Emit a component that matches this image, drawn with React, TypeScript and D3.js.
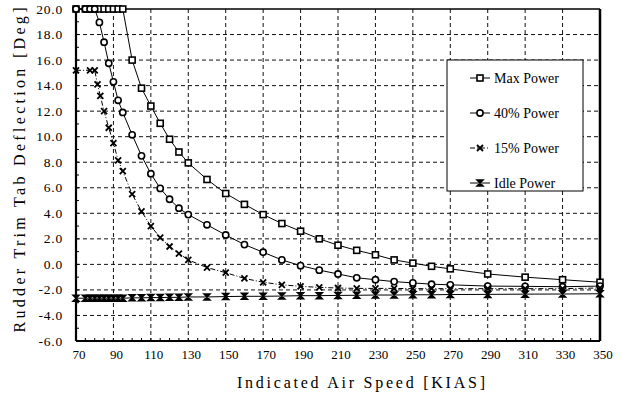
import React from "react";
import * as d3 from "d3";

const xTicks = [70, 90, 110, 130, 150, 170, 190, 210, 230, 250, 270, 290, 310, 330, 350];
const yTicks = [20, 18, 16, 14, 12, 10, 8, 6, 4, 2, 0, -2, -4, -6];

const maxX = [70, 75, 77.5, 80, 82.5, 85, 87.5, 90, 92.5, 95, 100, 105, 110, 115, 120, 125, 130, 140, 150, 160, 170, 180, 190, 200, 210, 220, 230, 240, 250, 260, 270, 290, 310, 330, 350];
const maxY = [20, 20, 20, 20, 20, 20, 20, 20, 20, 20, 16.0, 13.8, 12.4, 11.05, 9.8, 8.8, 7.95, 6.65, 5.55, 4.7, 3.9, 3.2, 2.6, 2.0, 1.5, 1.1, 0.75, 0.35, 0.1, -0.15, -0.35, -0.75, -1.0, -1.2, -1.4];

const p40X = [70, 75, 77.5, 80, 82.5, 85, 87.5, 90, 92.5, 95, 100, 105, 110, 115, 120, 125, 130, 140, 150, 160, 170, 180, 190, 200, 210, 220, 230, 240, 250, 260, 270, 290, 310, 330, 350];
const p40Y = [20, 20, 20, 20, 18.95, 17.4, 15.75, 14.3, 12.85, 11.9, 10.15, 8.5, 7.1, 5.95, 5.1, 4.4, 3.9, 3.1, 2.3, 1.55, 0.95, 0.35, -0.1, -0.45, -0.75, -1.05, -1.2, -1.35, -1.45, -1.55, -1.6, -1.7, -1.72, -1.75, -1.7];

const p15X = [70, 77.5, 80, 81.5, 83, 85, 87.5, 90, 92.5, 95, 100, 105, 110, 115, 120, 125, 130, 140, 150, 160, 170, 180, 190, 200, 210, 220, 230, 240, 250, 260, 270, 290, 310, 330, 350];
const p15Y = [15.2, 15.2, 15.2, 14.1, 13.2, 12.0, 10.7, 9.5, 8.15, 7.3, 5.5, 4.15, 3.0, 2.1, 1.4, 0.85, 0.35, -0.25, -0.65, -1.1, -1.4, -1.6, -1.72, -1.8, -1.85, -1.88, -1.88, -1.88, -1.9, -1.9, -1.9, -1.9, -1.9, -1.9, -1.85];

const idleX = [70, 75, 77.5, 80, 82.5, 85, 87.5, 90, 92.5, 95, 100, 105, 110, 115, 120, 125, 130, 140, 150, 160, 170, 180, 190, 200, 210, 220, 230, 240, 250, 260, 270, 290, 310, 330, 350];
const idleY = [-2.65, -2.65, -2.65, -2.65, -2.65, -2.65, -2.65, -2.65, -2.65, -2.65, -2.62, -2.62, -2.6, -2.6, -2.58, -2.58, -2.55, -2.55, -2.52, -2.5, -2.5, -2.48, -2.45, -2.45, -2.43, -2.42, -2.4, -2.4, -2.38, -2.38, -2.36, -2.35, -2.33, -2.32, -2.3];

const seriesNames = ["Max Power", "40% Power", "15% Power", "Idle Power"];

const W = 623, H = 401;
const x = d3.scaleLinear().domain([70, 350]).range([76, 600]);
const y = d3.scaleLinear().domain([-6, 20]).range([341, 9]);

function Marker({ type, cx, cy }: { type: string; cx: number; cy: number }) {
  const s = 3;
  if (type === "square")
    return <rect x={cx - s} y={cy - s} width={2 * s} height={2 * s} fill="#fff" stroke="#000" strokeWidth={1.6} />;
  if (type === "circle")
    return <circle cx={cx} cy={cy} r={3.1} fill="#fff" stroke="#000" strokeWidth={1.6} />;
  if (type === "x")
    return <path d={`M${cx - s},${cy - s}L${cx + s},${cy + s}M${cx - s},${cy + s}L${cx + s},${cy - s}`} stroke="#000" strokeWidth={1.8} fill="none" />;
  return <path d={`M${cx - s},${cy - s}H${cx + s}L${cx - s},${cy + s}H${cx + s}Z`} stroke="#000" strokeWidth={1.5} fill="#000" />;
}

export default function App() {
  const series = [
    { xs: maxX, ys: maxY, m: "square", dash: "none" },
    { xs: p40X, ys: p40Y, m: "circle", dash: "none" },
    { xs: p15X, ys: p15Y, m: "x", dash: "5,2,1,2" },
    { xs: idleX, ys: idleY, m: "idle", dash: "none" },
  ];
  const line = d3.line<[number, number]>().x((d) => x(d[0])).y((d) => y(d[1]));
  const minorX = d3.range(70, 351, 5);
  const minorY = d3.range(-6, 20.01, 1);
  const font = "'Liberation Serif', 'Times New Roman', serif";
  return (
    <svg width={W} height={H} style={{ position: "absolute", left: 0, top: 0, background: "#fff" }}>
      <rect x={0} y={0} width={W} height={H} fill="#fff" />
      {xTicks.slice(1, -1).map((t) => (
        <line key={"gx" + t} x1={x(t)} x2={x(t)} y1={y(20)} y2={y(-6)} stroke="#111" strokeWidth={1} strokeDasharray="4,3" />
      ))}
      {yTicks.slice(1, -1).map((t) => (
        <line key={"gy" + t} x1={x(70)} x2={x(350)} y1={y(t)} y2={y(t)} stroke="#111" strokeWidth={1} strokeDasharray="4,3" />
      ))}
      {minorX.map((t) => (
        <line key={"mx" + t} x1={x(t)} x2={x(t)} y1={y(-6)} y2={y(-6) - 3} stroke="#000" strokeWidth={1} />
      ))}
      {minorY.map((t) => (
        <line key={"my" + t} x1={x(70)} x2={x(70) + 3} y1={y(t)} y2={y(t)} stroke="#000" strokeWidth={1} />
      ))}
      <line x1={x(70)} x2={x(350)} y1={y(20)} y2={y(20)} stroke="#000" strokeWidth={1.5} />
      <line x1={x(70)} x2={x(70)} y1={y(20)} y2={y(-6)} stroke="#000" strokeWidth={2.2} />
      <line x1={x(70)} x2={x(350)} y1={y(-6)} y2={y(-6)} stroke="#000" strokeWidth={2.2} />
      <line x1={x(350)} x2={x(350)} y1={y(20)} y2={y(-6)} stroke="#000" strokeWidth={2.5} />
      {series.map((s, i) => {
        const pts = s.xs.map((v, j) => [v, s.ys[j]] as [number, number]);
        return (
          <g key={"s" + i}>
            <path d={line(pts) || ""} fill="none" stroke="#000" strokeWidth={1} strokeDasharray={s.dash} />
            {pts.map((p, j) => (
              <Marker key={j} type={s.m} cx={x(p[0])} cy={y(p[1])} />
            ))}
          </g>
        );
      })}
      {yTicks.map((t) => (
        <text key={"yl" + t} x={63} y={y(t) + 4.5} textAnchor="end" fontFamily={font} fontSize={13.5} letterSpacing={0.8} fill="#000">
          {t.toFixed(1)}
        </text>
      ))}
      {xTicks.map((t) => (
        <text key={"xl" + t} x={x(t) + 3} y={359} textAnchor="middle" fontFamily={font} fontSize={13} fill="#000">
          {t}
        </text>
      ))}
      <text x={361} y={388} textAnchor="middle" fontFamily={font} fontSize={16} textLength={248} lengthAdjust="spacing" fill="#000">
        Indicated Air Speed [KIAS]
      </text>
      <text transform="translate(25,170) rotate(-90)" textAnchor="middle" fontFamily={font} fontSize={16} textLength={325} lengthAdjust="spacing" fill="#000">
        Rudder Trim Tab Deflection [Deg]
      </text>
      <rect x={447} y={60} width={136} height={131} fill="#fff" stroke="#000" strokeWidth={1} />
      {seriesNames.map((n, i) => {
        const ly = 78 + i * 35;
        return (
          <g key={"lg" + i}>
            <line x1={470} x2={490} y1={ly} y2={ly} stroke="#000" strokeWidth={1} strokeDasharray={series[i].dash} />
            <Marker type={series[i].m} cx={480} cy={ly} />
            <text x={494} y={ly + 4.5} fontFamily={font} fontSize={14} fill="#000">
              {n}
            </text>
          </g>
        );
      })}
    </svg>
  );
}
